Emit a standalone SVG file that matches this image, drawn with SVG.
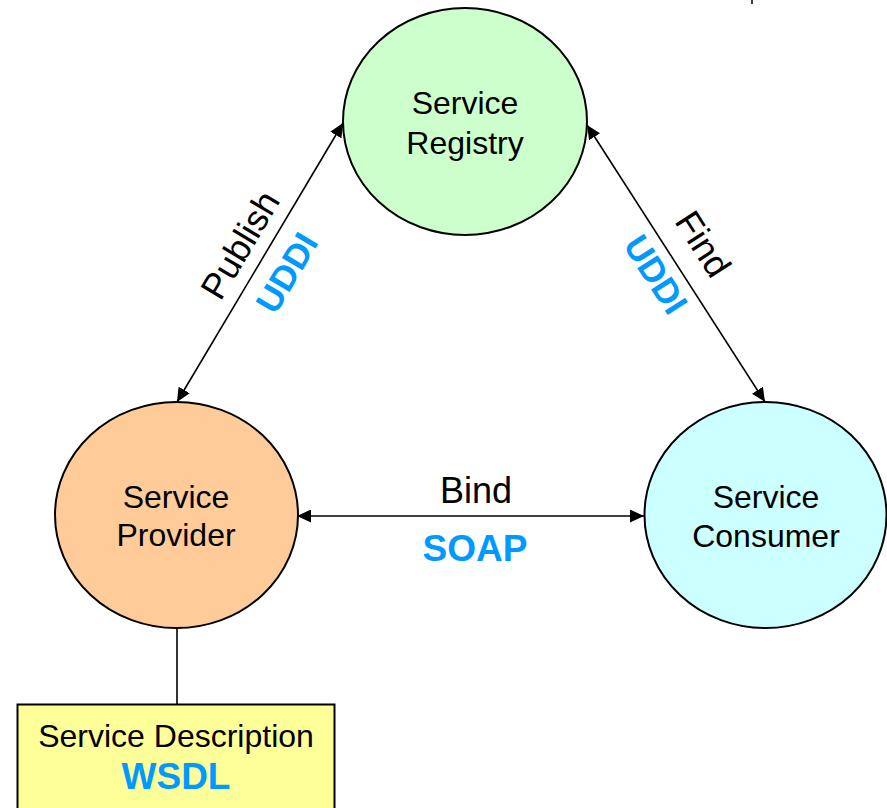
<svg xmlns="http://www.w3.org/2000/svg" width="887" height="808" viewBox="0 0 887 808">
<defs>
<style>
.node{stroke:#000;stroke-width:2}
.t{font-family:"Liberation Sans",Arial,sans-serif;fill:#000;text-anchor:middle}
.b{font-family:"Liberation Sans",Arial,sans-serif;font-weight:bold;fill:#0099FF;text-anchor:middle}
.conn{stroke:#000;stroke-width:1.6;fill:none}
</style>
<marker id="ah" markerUnits="userSpaceOnUse" markerWidth="15" markerHeight="13" refX="14" refY="6.5" orient="auto-start-reverse">
<path d="M0,0 L14,6.5 L0,13 z" fill="#000"/>
</marker>
</defs>
<rect x="0" y="0" width="887" height="808" fill="#fff"/>
<line x1="752" y1="0" x2="752" y2="4" stroke="#000" stroke-width="1.5"/>
<g id="connectors">
<line class="conn" x1="177" y1="402" x2="343" y2="123" marker-start="url(#ah)" marker-end="url(#ah)"/>
<line class="conn" x1="587" y1="125" x2="765" y2="402" marker-start="url(#ah)" marker-end="url(#ah)"/>
<line class="conn" x1="297" y1="516" x2="644" y2="516" marker-start="url(#ah)" marker-end="url(#ah)"/>
<line class="conn" x1="177" y1="628" x2="177" y2="704"/>
<g transform="translate(262,258) rotate(-59.2)">
<text class="t" x="0" y="-13" font-size="36">Publish</text>
<text class="b" x="0" y="41" font-size="35">UDDI</text>
</g>
<g transform="translate(675,262) rotate(57.3)">
<text class="t" x="0" y="-21" font-size="36">Find</text>
<text class="b" x="0" y="35" font-size="35">UDDI</text>
</g>
<text class="t" x="476" y="503" font-size="36">Bind</text>
<text class="b" x="475" y="561" font-size="37">SOAP</text>
</g>
<g id="registry">
<ellipse class="node" cx="465" cy="121.5" rx="122" ry="113.5" fill="#CCFFCC"/>
<text class="t" x="465" y="114" font-size="32">Service</text>
<text class="t" x="465" y="154" font-size="32">Registry</text>
</g>
<g id="provider">
<ellipse class="node" cx="176.5" cy="515" rx="121.5" ry="113" fill="#FFCC99"/>
<text class="t" x="176" y="508" font-size="32">Service</text>
<text class="t" x="176" y="546" font-size="32">Provider</text>
</g>
<g id="consumer">
<ellipse class="node" cx="765.5" cy="515" rx="121" ry="113" fill="#CCFFFF"/>
<text class="t" x="766" y="508" font-size="32">Service</text>
<text class="t" x="766" y="547" font-size="32">Consumer</text>
</g>
<g id="description">
<rect class="node" x="17.5" y="704.5" width="317" height="110" fill="#FFFF99"/>
<text class="t" x="176" y="747" font-size="32">Service Description</text>
<text class="b" x="176" y="789" font-size="37">WSDL</text>
</g>
</svg>
